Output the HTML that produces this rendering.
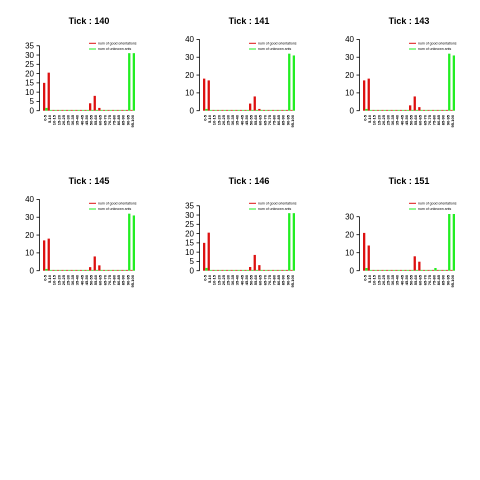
<!DOCTYPE html>
<html><head><meta charset="utf-8"><style>
html,body{margin:0;padding:0;background:#fff;}
svg{display:block;font-family:"Liberation Sans",sans-serif;}
</style></head><body>
<svg id="c" width="480" height="480" viewBox="0 0 480 480"></svg>
<script>
const titles = ["Tick : 140","Tick : 141","Tick : 143","Tick : 145","Tick : 146","Tick : 151"];
const yTops = [38.8,40.4,40.4,40.4,38.8,40];
const yTicks = [[0,5,10,15,20,25,30,35],[0,10,20,30,40],[0,10,20,30,40],[0,10,20,30,40],[0,5,10,15,20,25,30,35],[0,10,20,30]];
const categories = ["0-5","5-10","10-15","15-20","20-25","25-30","30-35","35-40","40-45","45-50","50-55","55-60","60-65","65-70","70-75","75-80","80-85","85-90","90-95","95-100"];
const red140 = [15,20.5,0,0,0,0,0,0,0,0,4,8,1.5,0,0,0,0,0,0,0];
const green140 = [1.5,0,0,0,0,0,0,0,0,0,0,0,0,0,0,0,0,0,31,31];
const red141 = [18,17,0,0,0,0,0,0,0,0,4,8,1,0,0,0,0,0,0,0];
const green141 = [1,0,0,0,0,0,0,0,0,0,0,0,0,0,0,0,0,0,32,31];
const red143 = [17,18,0,0,0,0,0,0,0,0,3,8,2,0,0,0,0,0,0,0];
const green143 = [1,0,0,0,0,0,0,0,0,0,0,0,0,0,0,0,0,0,32,31];
const red145 = [17,18,0,0,0,0,0,0,0,0,2,8,3,0,0,0,0,0,0,0];
const green145 = [1,0,0,0,0,0,0,0,0,0,0,0,0,0,0,0,0,0,32,31];
const red146 = [15,20.5,0,0,0,0,0,0,0,0,2,8.5,3,0,0,0,0,0,0,0];
const green146 = [1.5,0,0,0,0,0,0,0,0,0,0,0,0,0,0,0,0,0,31,31];
const red151 = [21,14,0,0,0,0,0,0,0,0,0,8,5,0,0,0,0,0,0,0];
const green151 = [1.5,0,0,0,0,0,0,0,0,0,0,0,0,0,0,1.5,0,0,31.5,31.5];
const reds = [red140,red141,red143,red145,red146,red151];
const greens = [green140,green141,green143,green145,green146,green151];

const NS="http://www.w3.org/2000/svg";
const svg=document.getElementById('c');
function mk(tag,attrs,parent){const e=document.createElementNS(NS,tag);for(const k in attrs)e.setAttribute(k,attrs[k]);(parent||svg).appendChild(e);return e;}

for(let p=0;p<6;p++){
  const ox=(p%3)*160, oy=Math.floor(p/3)*160;
  const g=mk('g',{});
  
  
  const x0=ox+43, pitch=4.6, bw=2.3, y0=oy+110.7, h=72;
  const yS=v=>y0-v/yTops[p]*h;
  const xS=i=>x0+i*pitch;
  const t=mk('text',{x:ox+89,y:oy+24,'text-anchor':'middle','font-size':'9','font-weight':'bold',fill:'#000'},g);
  t.textContent=titles[p];
  
  
  const tk=yTicks[p];
  const ax=mk('line',{x1:ox+39.5,x2:ox+39.5,y1:yS(tk[0]),y2:yS(tk[tk.length-1]),stroke:'#000','stroke-width':'0.8'},g);
  
  
  tk.forEach(v=>{
    mk('line',{x1:ox+36.5,x2:ox+39.5,y1:yS(v),y2:yS(v),stroke:'#000','stroke-width':'0.8'},g);
    const l=mk('text',{x:ox+34,y:yS(v)+2.8,'text-anchor':'end','font-size':'8',fill:'#000'},g);
    l.textContent=v;
    
    
  });
  categories.forEach((c,i)=>{
    const rv=reds[p][i], gv=greens[p][i];
    const r=mk('rect',{x:xS(i),y:Math.min(yS(rv),y0-0.8),width:bw,height:Math.max(y0-yS(rv),0.8),fill:'#dd1111'},g);
    
    
    const gr=mk('rect',{x:xS(i)+bw,y:Math.min(yS(gv),y0-0.8),width:bw,height:Math.max(y0-yS(gv),0.8),fill:'#22ee22'},g);
    
    
    const cx=xS(i)+bw;
    const lb=mk('text',{x:cx+1.2,y:oy+115,'font-size':'4','font-weight':'bold','text-anchor':'end',fill:'#000',transform:'rotate(-90 '+(cx+1.2)+' '+(oy+115)+')'},g);
    lb.textContent=c;
    
    
  });
  const lg=mk('g',{},g);
  
  
  mk('line',{x1:ox+89,x2:ox+96,y1:oy+43.3,y2:oy+43.3,stroke:'#dd1111','stroke-width':'1'},lg);
  mk('line',{x1:ox+89,x2:ox+96,y1:oy+49,y2:oy+49,stroke:'#22ee22','stroke-width':'1'},lg);
  const t1=mk('text',{x:ox+98,y:oy+44.5,'font-size':'3.5',fill:'#000'},lg);
  t1.textContent='num of good orientations';
  const t2=mk('text',{x:ox+98,y:oy+50.2,'font-size':'3.5',fill:'#000'},lg);
  t2.textContent='num of unknown ants';
}
</script>
</body></html>
